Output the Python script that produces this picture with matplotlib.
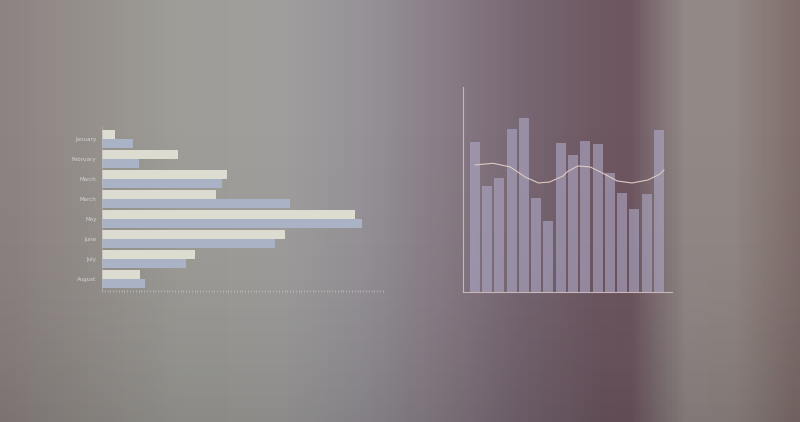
import numpy as np
import matplotlib.pyplot as plt
from matplotlib.colors import LinearSegmentedColormap

# Left chart: two series per month
months = ['January', 'February', 'March', 'March', 'May', 'June', 'July', 'August']
series_a = [4.6, 27, 44.5, 40.5, 90, 65, 33, 13.5]
series_b = [11, 13, 42.7, 67, 92.5, 61.5, 30, 15.3]

# Right chart: columns and a wave line
col_values = [150, 106, 114, 163, 174, 94, 71, 149, 137, 151, 148, 119, 99, 83, 98, 162]
wave_x = [0.04, 1.5, 2.9, 4.1, 5.2, 6.1, 7.2, 7.5, 8.4, 9.4, 10.4, 11.6, 12.8, 14.1, 15.1, 15.4]
wave_y = [127, 128.7, 125, 115, 109, 110, 116, 120, 126, 125, 119, 111, 109, 112, 118, 122]

fig = plt.figure(figsize=(8, 4.22), dpi=100)

# background gradient
bg = fig.add_axes([0, 0, 1, 1])
stops = [(0.00, '#8c8382'), (0.10, '#958f8b'), (0.22, '#9e9d98'), (0.35, '#a09f9d'),
         (0.45, '#979399'), (0.55, '#8a7e88'), (0.65, '#786874'), (0.75, '#6e5862'),
         (0.79, '#6e5660'), (0.82, '#7e6e72'), (0.86, '#928a88'), (0.92, '#928884'),
         (1.00, '#806e6c')]
cmap = LinearSegmentedColormap.from_list('bg', stops)
grad = np.linspace(0, 1, 800)[None, :]
bg.imshow(grad, aspect='auto', cmap=cmap, extent=[0, 1, 0, 1])
shade = np.linspace(0, 1, 200)[:, None] ** 3
bg.imshow(np.zeros((200, 1)), aspect='auto', cmap='gray', extent=[0, 1, 0, 1],
          alpha=shade * 0.12)
bg.set_xlim(0, 1)
bg.set_ylim(0, 1)
bg.axis('off')

# left horizontal bar chart
ax1 = fig.add_axes([0.1275, 0.308, 0.351, 0.393])
y = np.arange(len(months))
ax1.barh(y - 0.225, series_a, height=0.45, color='#dcddd0')
ax1.barh(y + 0.225, series_b, height=0.45, color='#a9b3c5')
ax1.set_xlim(0, 100)
ax1.set_ylim(7.65, -0.65)
ax1.patch.set_alpha(0)
for s in ['top', 'right', 'bottom']:
    ax1.spines[s].set_visible(False)
ax1.spines['left'].set_color('#b8b8b8')
ax1.spines['left'].set_linewidth(0.4)
ax1.set_yticks(y)
ax1.set_yticklabels(months, fontsize=4, color='#d4d4d4')
ax1.tick_params(axis='y', length=0, pad=4)
ax1.set_xticks(np.arange(0, 101, 1))
ax1.set_xticklabels([])
ax1.tick_params(axis='x', length=1.5, width=0.4, color='#cfcfcf', direction='in')
ax1.axhline(7.65, color='#c4c4c4', lw=0.4)

# right column chart
ax2 = fig.add_axes([0.579, 0.308, 0.261, 0.486])
x = np.arange(len(col_values))
ax2.bar(x, col_values, width=0.82, color='#afaac8', alpha=0.6)
ax2.plot(wave_x, wave_y, color='#dccac2', lw=0.8)
ax2.set_xlim(-0.935, 16.06)
ax2.set_ylim(0, 205)
ax2.patch.set_alpha(0)
for s in ['top', 'right']:
    ax2.spines[s].set_visible(False)
ax2.spines['left'].set_color('#c8b6b8')
ax2.spines['bottom'].set_color('#c8b6b8')
ax2.spines['left'].set_linewidth(0.8)
ax2.spines['bottom'].set_linewidth(0.8)
ax2.set_xticks([])
ax2.set_yticks([])

fig.savefig('out.png', dpi=100)
